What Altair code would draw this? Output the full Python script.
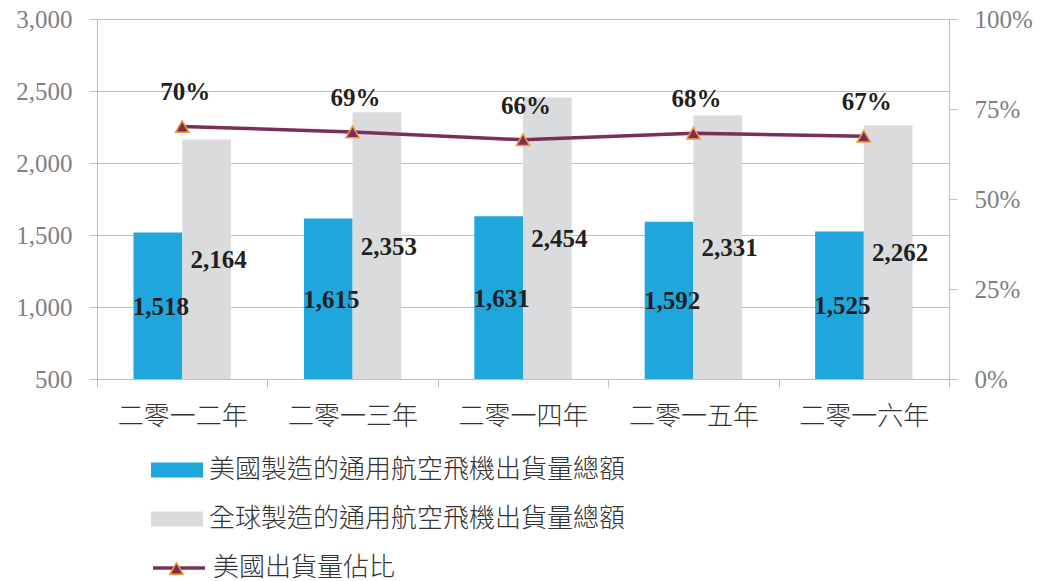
import altair as alt
import pandas as pd

# ---- data ----
years = ["二零一二年", "二零一三年", "二零一四年", "二零一五年", "二零一六年"]
us_values = [1518, 1615, 1631, 1592, 1525]
global_values = [2164, 2353, 2454, 2331, 2262]
series_names = ["美國製造的通用航空飛機出貨量總額", "全球製造的通用航空飛機出貨量總額"]
line_name = "美國出貨量佔比"
marker_name = "marker"
left_ticks = [500, 1000, 1500, 2000, 2500, 3000]
right_ticks = [0, 0.25, 0.5, 0.75, 1.0]
axis_min = 500
axis_max = 3000

BLUE = "#1fa6dd"
GREY = "#dadbdd"
PURPLE = "#7a2e58"
ORANGE = "#f39a3c"
AXIS_GREY = "#bfbfbf"
LABEL_GREY = "#808080"
TEXT_DARK = "#231f20"
SERIF = "Liberation Serif"
CJK = "Noto Sans CJK TC"

bars_df = pd.DataFrame({
    "year": years * 2,
    "series": [series_names[0]] * len(years) + [series_names[1]] * len(years),
    "value": us_values + global_values,
})
line_df = pd.DataFrame({
    "year": years,
    "us": us_values,
    "global": global_values,
    "line": [line_name] * len(years),
    "marker": [marker_name] * len(years),
})

x_enc = alt.X(
    "year:N", sort=years,
    scale=alt.Scale(paddingInner=0, paddingOuter=0),
    axis=alt.Axis(
        title=None, tickBand="extent", labelAngle=0,
        labelFont=CJK, labelFontSize=26, labelFontWeight=300, labelColor="#333333",
        labelPadding=16, tickSize=8, tickColor=AXIS_GREY, domainColor=AXIS_GREY,
        grid=False,
    ),
)
x_off = alt.XOffset("series:N", sort=series_names,
                    scale=alt.Scale(paddingInner=0, paddingOuter=0.75))

left_scale = alt.Scale(domain=[axis_min, axis_max], nice=False, zero=False)
left_axis = alt.Axis(
    title=None, values=left_ticks, format=",d",
    labelFont=SERIF, labelFontSize=25, labelColor=LABEL_GREY, labelPadding=17,
    tickSize=8, tickColor=AXIS_GREY, domainColor=AXIS_GREY,
    grid=True, gridColor=AXIS_GREY, gridWidth=1,
)

bars = alt.Chart(bars_df).mark_bar().encode(
    x=x_enc,
    xOffset=x_off,
    y=alt.Y("value:Q", scale=left_scale, axis=left_axis),
    y2=alt.datum(axis_min),
    color=alt.Color(
        "series:N", sort=series_names,
        scale=alt.Scale(domain=series_names, range=[BLUE, GREY]),
        legend=alt.Legend(
            title=None, orient="none", legendX=60, legendY=431, direction="vertical",
            symbolType="M-1.3,-0.37H1.3V0.37H-1.3Z", symbolSize=1600, symbolStrokeWidth=0,
            rowPadding=16, padding=0, labelOffset=12,
            labelFont=CJK, labelFontSize=26, labelFontWeight=300, labelColor="#333333",
            labelLimit=800,
        ),
    ),
)

def bar_label(series, dx):
    return alt.Chart(bars_df).transform_filter(
        alt.datum.series == series
    ).transform_calculate(
        mid=f"(datum.value + {axis_min}) / 2"
    ).mark_text(
        font=SERIF, fontWeight="bold", fontSize=25, color=TEXT_DARK, dx=dx, dy=1,
    ).encode(
        x=x_enc, xOffset=x_off,
        y=alt.Y("mid:Q", scale=left_scale, axis=left_axis),
        text=alt.Text("value:Q", format=","),
    )

left_layer = alt.layer(bars, bar_label(series_names[0], 3), bar_label(series_names[1], 12))

y_right = alt.Y(
    "share:Q",
    scale=alt.Scale(domain=[0, 1], nice=False),
    axis=alt.Axis(
        title=None, orient="right", values=right_ticks, format=".0%",
        labelFont=SERIF, labelFontSize=25, labelColor=LABEL_GREY, labelPadding=17,
        tickSize=8, tickColor=AXIS_GREY, domainColor=AXIS_GREY, grid=False,
    ),
)

base_line = alt.Chart(line_df).transform_calculate(share="datum.us / datum.global")

line = base_line.mark_line(strokeWidth=3.5).encode(
    x=x_enc, y=y_right,
    stroke=alt.Stroke(
        "line:N", scale=alt.Scale(domain=[line_name], range=[PURPLE]),
        legend=alt.Legend(
            title=None, orient="none", legendX=60, legendY=527,
            symbolType="M-1.3,0H1.3", symbolSize=1600, symbolStrokeWidth=3.5,
            padding=0, labelOffset=12,
            labelFont=CJK, labelFontSize=26, labelFontWeight=300, labelColor="#333333",
            labelLimit=800,
        ),
    ),
)

points = base_line.mark_point(
    shape="triangle-up", filled=True, size=180, stroke=ORANGE, strokeWidth=1.5, opacity=1,
).encode(
    x=x_enc, y=y_right,
    fill=alt.Fill(
        "marker:N", scale=alt.Scale(domain=[marker_name], range=[PURPLE]),
        legend=alt.Legend(
            title=None, orient="none", legendX=72, legendY=542,
            symbolType="triangle-up", symbolSize=180, symbolStrokeColor=ORANGE,
            symbolStrokeWidth=1.5, padding=0, labelExpr="''", labelFontSize=8,
        ),
    ),
)

pct_text = base_line.mark_text(
    font=SERIF, fontWeight="bold", fontSize=25, color=TEXT_DARK, dx=3, dy=-34,
).encode(
    x=x_enc, y=y_right,
    text=alt.Text("share:Q", format=".0%"),
)

right_layer = alt.layer(line, points, pct_text)

chart = alt.layer(left_layer, right_layer).resolve_scale(
    y="independent"
).properties(
    width=852, height=360,
    autosize="none",
    padding={"left": 97, "top": 19, "right": 90, "bottom": 202},
).configure_view(strokeWidth=0)

chart.save("out.html", embed_options={"renderer": "svg", "actions": False})
